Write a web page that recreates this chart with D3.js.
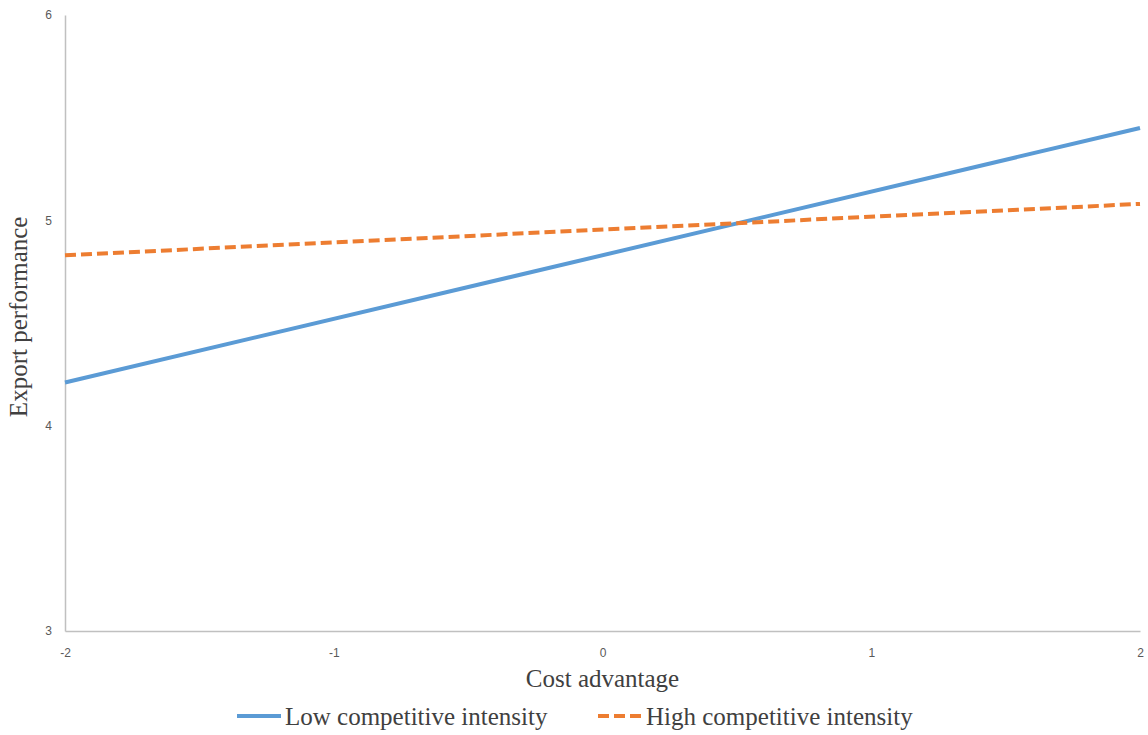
<!DOCTYPE html>
<html>
<head>
<meta charset="utf-8">
<script src="https://cdn.jsdelivr.net/npm/d3@7"></script>
<style>
  html, body { margin: 0; padding: 0; background: #fff; }
  svg { display: block; }
</style>
</head>
<body>
<svg id="chart" width="1148" height="735"></svg>
<script>
// Simple slopes: export performance vs cost advantage at two levels of competitive intensity
const xEnds = [-2, 2];
const lowIntensity = [4.21, 5.45];
const highIntensity = [4.83, 5.08];
const xTicks = [-2, -1, 0, 1, 2];
const yTicks = [3, 4, 5, 6];
const seriesNames = ["Low competitive intensity", "High competitive intensity"];
const seriesColors = ["#5B9BD5", "#ED7D31"];

const svg = d3.select("#chart");
const margin = { left: 65, right: 8, top: 15, bottom: 104 };
const W = 1148, H = 735;

const x = d3.scaleLinear().domain([-2, 2]).range([margin.left, W - margin.right]);
const y = d3.scaleLinear().domain([3, 6]).range([H - margin.bottom, margin.top]);

// Axes without tick marks, light grey domain lines; plain hyphen for negatives
const fmt = d => String(d);
const xAxis = d3.axisBottom(x).tickValues(xTicks).tickSize(0).tickPadding(17).tickFormat(fmt);
const yAxis = d3.axisLeft(y).tickValues(yTicks).tickSize(0).tickPadding(13).tickFormat(fmt);

const gx = svg.append("g").attr("transform", `translate(0,${y(3)})`).call(xAxis);
const gy = svg.append("g").attr("transform", `translate(${x(-2)},0)`).call(yAxis);

[gx, gy].forEach(g => {
  g.select(".domain").attr("stroke", "#c0c0c0").attr("stroke-width", 1.5);
  g.selectAll("text")
    .attr("fill", "#595959")
    .style("font-family", "'Liberation Sans', Arial, sans-serif")
    .style("font-size", "12px");
});

// Series lines
const line = d3.line().x(d => x(d[0])).y(d => y(d[1]));
const series = [
  { name: seriesNames[0], values: lowIntensity, color: seriesColors[0], dash: null },
  { name: seriesNames[1], values: highIntensity, color: seriesColors[1], dash: "11,5" }
];

series.forEach(s => {
  svg.append("path")
    .datum(xEnds.map((xv, i) => [xv, s.values[i]]))
    .attr("d", line)
    .attr("fill", "none")
    .attr("stroke", s.color)
    .attr("stroke-width", 4)
    .attr("stroke-dasharray", s.dash);
});

const serif = "'Liberation Serif', 'Times New Roman', serif";

// Axis titles
svg.append("text")
  .attr("x", x(0)).attr("y", 687)
  .attr("text-anchor", "middle")
  .attr("fill", "#404040")
  .style("font-family", serif)
  .style("font-size", "25px")
  .text("Cost advantage");

svg.append("text")
  .attr("transform", `translate(27,${y(4.53)}) rotate(-90)`)
  .attr("text-anchor", "middle")
  .attr("fill", "#404040")
  .style("font-family", serif)
  .style("font-size", "25px")
  .text("Export performance");

// Legend
const legendItems = [
  { x0: 237, s: series[0] },
  { x0: 598, s: series[1] }
];
legendItems.forEach(it => {
  svg.append("line")
    .attr("x1", it.x0).attr("x2", it.x0 + 44)
    .attr("y1", 716).attr("y2", 716)
    .attr("stroke", it.s.color)
    .attr("stroke-width", 4)
    .attr("stroke-dasharray", it.s.dash ? "11,5" : null);
  svg.append("text")
    .attr("x", it.x0 + 48).attr("y", 725)
    .attr("fill", "#404040")
    .style("font-family", serif)
    .style("font-size", "25px")
    .text(it.s.name);
});
</script>
</body>
</html>
